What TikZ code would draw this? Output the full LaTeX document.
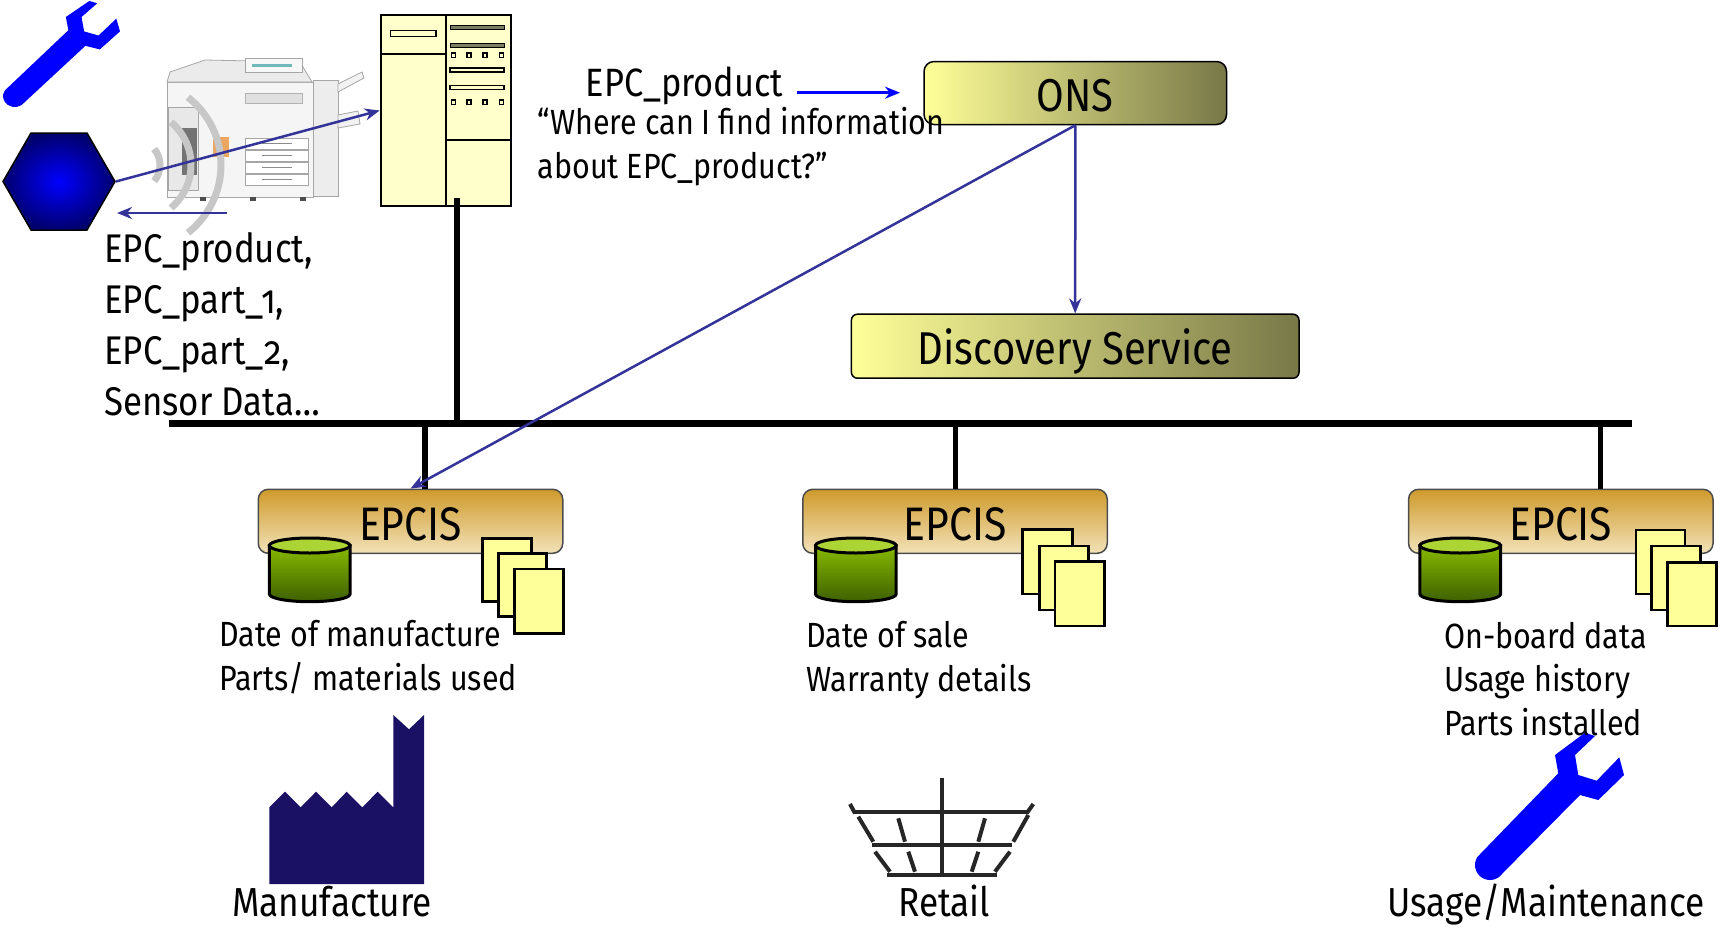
\documentclass[tikz,border=0pt]{standalone}
\usepackage{fontspec}
\setmainfont{Fira Sans}[FakeStretch=0.87, Numbers=OldStyle]
\usetikzlibrary{arrows.meta,shapes.geometric,calc}

\definecolor{linkblue}{RGB}{51,51,153}
\definecolor{brightblue}{RGB}{0,0,255}
\definecolor{paleyellow}{RGB}{255,255,204}
\definecolor{docyellow}{RGB}{255,255,153}
\definecolor{darkolive}{RGB}{120,120,72}
\definecolor{gold}{RGB}{206,154,44}
\definecolor{sand}{RGB}{242,226,184}
\definecolor{factoryblue}{RGB}{26,16,100}
\definecolor{cyltop}{RGB}{172,212,52}
\definecolor{cylhi}{RGB}{136,186,0}
\definecolor{cyllo}{RGB}{62,96,0}
\definecolor{barolive}{RGB}{125,125,100}

\tikzset{
  txt/.style={inner sep=0pt, anchor=base west},
  fbig/.style={font=\fontsize{40}{48}\selectfont},
  fkey/.style={font=\fontsize{39.5}{46}\selectfont},
  fmid/.style={font=\fontsize{35}{41}\selectfont},
  flab/.style={font=\fontsize{40.5}{46}\selectfont},
  fbox/.style={font=\fontsize{46}{52}\selectfont},
  link/.style={draw=linkblue, line width=2.5pt, -{Stealth[length=15pt,width=12pt]}},
  query/.style={draw=brightblue, line width=2.5pt, -{Stealth[length=15pt,width=12pt]}},
  bus/.style={line width=7pt},
  tap/.style={line width=5.5pt},
  epcisbox/.style={draw=black!70, line width=1.5pt, rounded corners=10pt,
    top color=gold, bottom color=sand, minimum width=304.5pt, minimum height=64pt,
    inner sep=0pt, text height=37.5pt, text depth=0pt, font=\fontsize{47}{52}\selectfont},
  namebox/.style={draw=black, line width=1.5pt, left color=docyellow, right color=darkolive,
    inner sep=0pt, text height=37.5pt, text depth=0pt, fbox},
  doc/.style={fill=docyellow, draw=black, line width=2.5pt},
  wave/.style={draw=black!22, line width=7pt},
  rib/.style={draw=black!85, line width=4pt},
  wrench/.pic={
    \fill[brightblue] (65,-110) -- (95,-132.3) -- (105,-129) -- (85,-110) -- (88.3,-90)
      -- (106.7,-84.3) -- (129.3,-107.7) -- (134,-90) -- (108.3,-65) -- (90,-70)
      -- (35:15) arc[start angle=35, end angle=212, radius=15] -- (68.3,-91.7) -- cycle;
  },
  database/.pic={
    \shade[top color=cylhi, bottom color=cyllo, draw=black, line width=3pt]
      (40.3,0) -- (40.3,48.7) arc[start angle=0, end angle=180, x radius=40.3, y radius=7.5]
      -- (-40.3,0) -- cycle;
    \filldraw[fill=cyltop, draw=black, line width=3pt] (0,0) ellipse[x radius=40.3, y radius=7.5];
  },
}

\begin{document}
\begin{tikzpicture}[x=1pt, y=-1pt]
\useasboundingbox (0,0) rectangle (1725,932);

% ---------- wrenches ----------
\pic[xscale=0.785, yscale=0.72] at (14.8,96.2) {wrench};
\pic at (1490,865) {wrench};

% ---------- copier ----------
\begin{scope}[line width=0.8pt]
  \filldraw[fill=black!7, draw=black!35] (313,80) rectangle (338,196);
  \filldraw[fill=black!5, draw=black!35] (338,84) -- (362,72) -- (364,78) -- (338,92) -- cycle;
  \filldraw[fill=black!5, draw=black!35] (338,115) -- (358,111) -- (360,124) -- (338,128) -- cycle;
  \filldraw[fill=black!4, draw=black!35] (167,82) rectangle (313,197);
  \filldraw[fill=black!8, draw=black!35] (170,72) -- (205,60) -- (300,62) -- (312,82) -- (167,82) -- cycle;
  \filldraw[fill=black!3, draw=black!35] (245,58) rectangle (302,72);
  \fill[teal!55] (252,64) rectangle (292,67);
  \filldraw[fill=black!12, draw=black!30] (245,93) rectangle (302,103);
  \foreach \yy in {138,150,162,174}{
    \filldraw[fill=white, draw=black!35] (245,\yy) rectangle (308,\yy+11);
    \draw[black!45, line width=1.5pt] (262,\yy+5.5) -- (292,\yy+5.5);
  }
  \filldraw[fill=black!9, draw=black!35] (168,107) rectangle (198,190);
  \fill[black!55] (182,128) rectangle (197,175);
  \fill[orange!55!brown!70] (213,137) rectangle (229,157);
  \foreach \xx in {200,250,300}{\fill[black!70] (\xx,197) rectangle (\xx+6,201);}
\end{scope}

% radio waves from the tag
\draw[wave] (135,165) ++(-40:25) arc[start angle=-40, end angle=40, radius=25];
\draw[wave] (135,165) ++(-50:56) arc[start angle=-50, end angle=50, radius=56];
\draw[wave] (135,165) ++(-52:86) arc[start angle=-52, end angle=52, radius=86];

% ---------- RFID tag ----------
\node[regular polygon, regular polygon sides=6, minimum size=112pt,
  inner sep=0pt, draw=black, line width=1.5pt, inner color=brightblue,
  outer color={rgb,255:red,0;green,0;blue,110}] (tag) at (59,181.5) {};

% ---------- reader / server cabinet ----------
\node[draw=black, line width=2pt, fill=paleyellow, minimum width=130pt, minimum height=191pt,
  inner sep=0pt] (srv) at (445.7,110.5) {};
\begin{scope}[line width=2pt]
  \draw (446,15) -- (446,206);
  \draw (380.7,54) -- (446,54);
  \draw (446,140) -- (510.7,140);
  \draw[fill=paleyellow, line width=1.5pt] (390.7,30.7) rectangle (436,36.7);
  \draw[fill=barolive, line width=1pt] (450,25.3) rectangle (504,29.3);
  \draw[fill=barolive, line width=1pt] (450,43.7) rectangle (504,47.7);
  \draw[fill=paleyellow, line width=1.2pt] (450,68) rectangle (504,72);
  \draw[fill=paleyellow, line width=1.2pt] (450,85.7) rectangle (504,89.7);
  \foreach \xx in {453.3,469,485,501.7}{
    \draw[fill=paleyellow, line width=1.2pt] (\xx-2,53) rectangle (\xx+2,57.5);
    \draw[fill=paleyellow, line width=1.2pt] (\xx-2,100) rectangle (\xx+2,104.5);
  }
\end{scope}

% tag <-> reader arrows
\coordinate (replyS) at (227,213);
\coordinate (replyE) at (117,213);
\draw[link] (tag.east) -- (srv.west);
\draw[link] (replyS) -- (replyE);

% ---------- network bus ----------
\coordinate (busW) at (169,423.5);
\coordinate (busE) at (1632,423.5);
\coordinate (srvTap) at (457,198);
\draw[tap] (srvTap) -- (srvTap |- busW);
\draw[bus] (busW) -- (busE);

% ---------- ONS and Discovery Service ----------
\node[namebox, rounded corners=10pt, minimum width=302.5pt, minimum height=63pt] (ons) at (1075.3,93) {ONS};
\node[namebox, rounded corners=6pt, minimum width=447.6pt, minimum height=64pt] (ds) at (1075.2,346.2) {Discovery Service};

% ---------- EPCIS repositories ----------
\node[epcisbox] (epcL) at (410.5,521.3) {EPCIS};
\node[epcisbox] (epcM) at (955,521.3) {EPCIS};
\node[epcisbox] (epcR) at (1560.8,521.3) {EPCIS};

\coordinate (tapL) at (425,423.5);
\coordinate (tapM) at (955.5,423.5);
\coordinate (tapR) at (1600.5,423.5);
\draw[tap] (tapL) -- (tapL |- epcL.north);
\draw[tap] (tapM) -- (tapM |- epcM.north);
\draw[tap] (tapR) -- (tapR |- epcR.north);

\pic at (309.7,545.5) {database};
\pic at (855.8,545.5) {database};
\pic at (1460.2,545.5) {database};

\draw[doc] (482.7,538.3) rectangle (531.7,601.7);
\draw[doc] (498.3,553.3) rectangle (546.7,616.7);
\draw[doc] (514.3,569) rectangle (563.3,633.3);

\draw[doc] (1022.7,529.3) rectangle (1072.7,594);
\draw[doc] (1039.3,546) rectangle (1088.3,610);
\draw[doc] (1055,561.7) rectangle (1104.3,626);

\draw[doc] (1636,530) rectangle (1685,594);
\draw[doc] (1651.7,546) rectangle (1700.7,610);
\draw[doc] (1667.7,562.3) rectangle (1716.7,626);

% lookup arrows
\coordinate (qS) at (796.7,92.7);
\coordinate (qE) at (900,92.7);
\draw[query] (qS) -- (qE);
\draw[link] (ons.south) -- (ds.north);
\draw[link] (ons.south) -- (epcL.north);

% ---------- factory ----------
\fill[factoryblue] (269.3,884) -- (269.3,807.3) -- (285,791.7) -- (300.7,807.3) -- (316,791.7)
  -- (331.7,807.3) -- (346.7,791.7) -- (362.3,807.3) -- (377.7,791.7) -- (393.3,807.3)
  -- (393.3,715) -- (409,729.3) -- (424,715) -- (424,884) -- cycle;

% ---------- shopping basket ----------
\draw[rib] (941.7,778.3) -- (941.7,875);
\draw[rib] (853.3,811.7) -- (1028.3,811.7);
\draw[rib] (850,804) -- (855,813.3);
\draw[rib] (1033.3,804) -- (1026.7,813.3);
\draw[rib] (871.7,845) -- (1011.7,845);
\draw[rib] (886.7,875) -- (996.7,875);
\draw[rib] (858.3,816.7) -- (873.3,841.7);
\draw[rib] (898.3,818.3) -- (905,841.7);
\draw[rib] (985,818.3) -- (978.3,841.7);
\draw[rib] (1028.3,815) -- (1013.3,841.7);
\draw[rib] (875,851.7) -- (890,871.7);
\draw[rib] (908.3,851.7) -- (915,871.7);
\draw[rib] (978.3,851.7) -- (971.7,871.7);
\draw[rib] (1010,851.7) -- (995,871.7);

% ---------- texts ----------
\node[txt, fbig] (ids1) at (104,262) {EPC\_product,};
\node[txt, fbig] (ids2) at (104,313) {EPC\_part\_1,};
\node[txt, fbig] (ids3) at (104,364) {EPC\_part\_2,};
\node[txt, fbig] (ids4) at (104,415) {Sensor Data…};

\node[txt, fkey] (qkey) at (585.5,96.7) {EPC\_product};
\node[txt, fmid] (qtxt1) at (537.5,134) {“Where can I find information};
\node[txt, fmid] (qtxt2) at (537.5,178.3) {about EPC\_product?”};

\node[txt, fmid] (infL1) at (219,646.8) {Date of manufacture};
\node[txt, fmid] (infL2) at (219,690.8) {Parts/ materials used};
\node[txt, fmid] (infM1) at (806,647.3) {Date of sale};
\node[txt, fmid] (infM2) at (806,691) {Warranty details};
\node[txt, fmid] (infR1) at (1444,648.3) {On-board data};
\node[txt, fmid] (infR2) at (1444,691.7) {Usage history};
\node[txt, fmid] (infR3) at (1444,735) {Parts installed};

\node[txt, flab] (labMan) at (232,916.7) {Manufacture};
\node[txt, flab] (labRet) at (898,916.7) {Retail};
\node[txt, flab] (labUse) at (1387,916.7) {Usage/Maintenance};
\end{tikzpicture}
\end{document}
